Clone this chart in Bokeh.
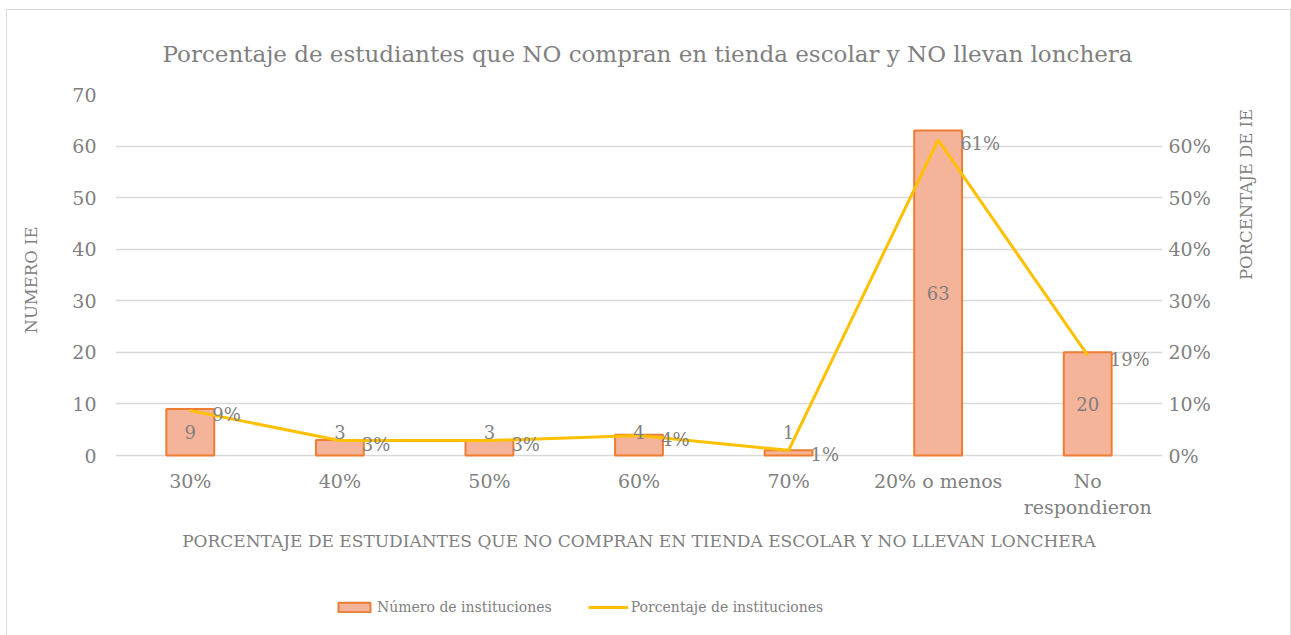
import math
from bokeh.plotting import figure
from bokeh.layouts import column
from bokeh.models import (ColumnDataSource, Range1d, LinearAxis, SingleIntervalTicker,
                          NumeralTickFormatter, Legend, LegendItem, FactorRange, LabelSet)
from bokeh.core.properties import value
from bokeh.embed import file_html
from bokeh.resources import INLINE

categories = ["30%", "40%", "50%", "60%", "70%", "20% o menos", "No\nrespondieron"]
numero = [9, 3, 3, 4, 1, 63, 20]
porcentaje = [0.087, 0.029, 0.029, 0.039, 0.010, 0.612, 0.194]
pct_labels = ["9%", "3%", "3%", "4%", "1%", "61%", "19%"]
num_labels = [str(v) for v in numero]
series_names = ["Número de instituciones", "Porcentaje de instituciones"]

FONT = "DejaVu Serif"
GRAY = "#808080"
BAR_FILL = "#F5B399"
BAR_LINE = "#ED7D31"
LINE_COLOR = "#FFC000"

src = ColumnDataSource(dict(
    cat=categories, num=numero, pct=porcentaje, pl=pct_labels, nl=num_labels,
    ly=[max(v / 2.0, 4.5) for v in numero],
))

# small room below the zero line so labels near zero are not clipped
pad_frac = 10.0 / 361.0
p = figure(frame_width=1047, frame_height=371, x_range=FactorRange(*categories),
           y_range=Range1d(-70 * pad_frac, 70),
           output_backend="svg", toolbar_location=None,
           min_border_left=108, min_border_right=128, min_border_top=84, min_border_bottom=100)
p.outline_line_color = None
p.extra_y_ranges = {"pct": Range1d(-0.7 * pad_frac, 0.7)}

p.title.text = "Porcentaje de estudiantes que NO compran en tienda escolar y NO llevan lonchera"
p.title.align = "left"
p.title.offset = 47
p.title.text_font = FONT
p.title.text_font_size = "23px"
p.title.text_font_style = "normal"
p.title.text_color = GRAY
p.title.standoff = 56

bars = p.vbar(x="cat", top="num", width=0.32, source=src, fill_color=BAR_FILL,
              line_color=BAR_LINE, line_width=2)
line = p.line(x="cat", y="pct", source=src, y_range_name="pct", line_color=LINE_COLOR, line_width=3)

p.add_layout(LabelSet(x="cat", y="ly", text="nl", source=src, text_font=value(FONT),
                      text_font_size="18px", text_color=GRAY, text_align="center",
                      text_baseline="middle"))
p.add_layout(LabelSet(x="cat", y="pct", text="pl", source=src, y_range_name="pct",
                      text_font=value(FONT), text_font_size="18px", text_color=GRAY,
                      text_align="left", text_baseline="middle", x_offset=22, y_offset=-4))

p.yaxis.ticker = SingleIntervalTicker(interval=10)
p.xgrid.grid_line_color = None
p.ygrid.grid_line_color = "#D9D9D9"
p.ygrid.grid_line_width = 1.5

ax_r = LinearAxis(y_range_name="pct", ticker=SingleIntervalTicker(interval=0.1),
                  formatter=NumeralTickFormatter(format="0%"))
p.add_layout(ax_r, "right")

p.yaxis[0].axis_label = "NUMERO IE"
ax_r.axis_label = "PORCENTAJE DE IE"
ax_r.axis_label_orientation = math.pi / 2
p.xaxis.axis_label = "PORCENTAJE DE ESTUDIANTES QUE NO COMPRAN EN TIENDA ESCOLAR Y NO LLEVAN LONCHERA"

for ax in p.axis:
    ax.axis_line_color = None
    ax.major_tick_line_color = None
    ax.minor_tick_line_color = None
    ax.major_tick_out = 0
    ax.major_tick_in = 0
    ax.major_label_text_font = FONT
    ax.major_label_text_font_size = "19px"
    ax.major_label_text_color = GRAY
    ax.axis_label_text_font = FONT
    ax.axis_label_text_font_size = "16.5px"
    ax.axis_label_text_font_style = "normal"
    ax.axis_label_text_color = GRAY

p.yaxis[0].major_label_standoff = 15
p.yaxis[0].axis_label_standoff = 28
ax_r.major_label_standoff = 2
ax_r.axis_label_standoff = 33
p.xaxis.major_label_standoff = 4
p.xaxis.axis_label_standoff = 10
p.xaxis.axis_label_text_font_size = "17px"

# legend strip below the chart; its glyphs use the same data, scrolled out of view
leg = figure(width=p.frame_width + 108 + 128, height=71, x_range=p.x_range,
             y_range=Range1d(1000, 1001),
             output_backend="svg", toolbar_location=None, x_axis_location=None,
             y_axis_location=None, min_border=0)
leg.outline_line_color = None
leg.xgrid.grid_line_color = None
leg.ygrid.grid_line_color = None
r_bar = leg.vbar(x="cat", top="num", width=0.32, source=src, fill_color=BAR_FILL,
                 line_color=BAR_LINE, line_width=2)
r_line = leg.line(x="cat", y="pct", source=src, line_color=LINE_COLOR, line_width=3)
legend = Legend(items=[LegendItem(label=series_names[0], renderers=[r_bar]),
                       LegendItem(label=series_names[1], renderers=[r_line])],
                orientation="horizontal", location=(219, 21),
                label_text_font=FONT, label_text_font_size="14px", label_text_color=GRAY,
                glyph_width=40, glyph_height=12, label_standoff=3, spacing=36, padding=10,
                border_line_color=None, background_fill_alpha=0, margin=0)
leg.add_layout(legend, "center")

layout = column(p, leg, spacing=0,
                styles={"border": "1px solid #D9D9D9", "margin-left": "6px", "margin-top": "9px"})

open("out.html", "w").write(file_html(layout, INLINE))
